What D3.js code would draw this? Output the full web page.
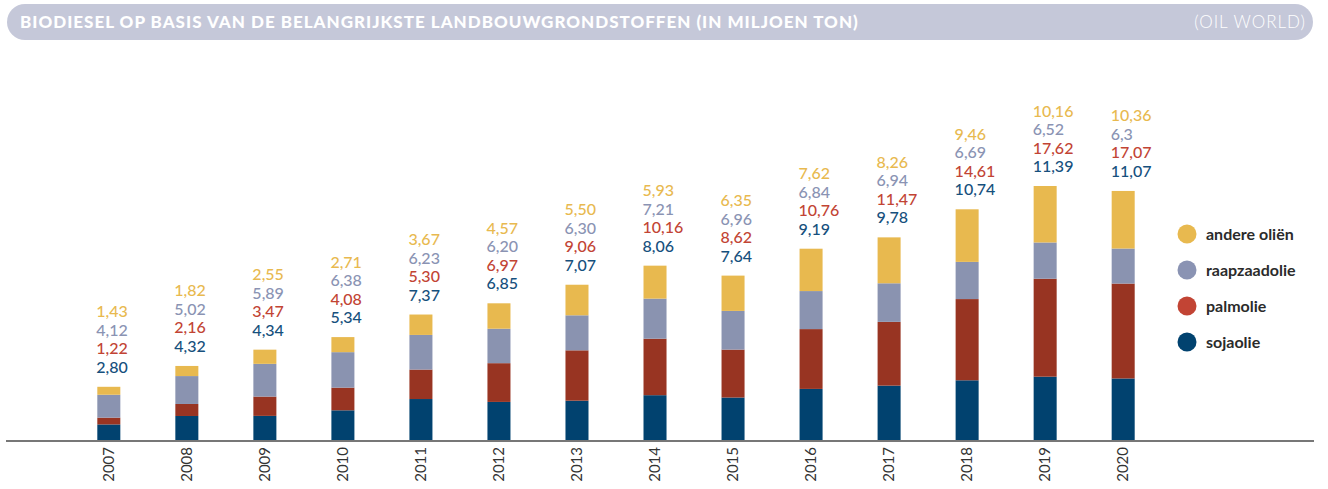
<!DOCTYPE html>
<html>
<head>
<meta charset="utf-8">
<script src="https://cdn.jsdelivr.net/npm/d3@7"></script>
<style>
  body { margin: 0; background: #fff; }
  svg { display: block; }
</style>
</head>
<body>
<script>
const years = ['2007', '2008', '2009', '2010', '2011', '2012', '2013', '2014', '2015', '2016', '2017', '2018', '2019', '2020']
const sojaolie = [2.80, 4.32, 4.34, 5.34, 7.37, 6.85, 7.07, 8.06, 7.64, 9.19, 9.78, 10.74, 11.39, 11.07]
const palmolie = [1.22, 2.16, 3.47, 4.08, 5.30, 6.97, 9.06, 10.16, 8.62, 10.76, 11.47, 14.61, 17.62, 17.07]
const raapzaadolie = [4.12, 5.02, 5.89, 6.38, 6.23, 6.20, 6.30, 7.21, 6.96, 6.84, 6.94, 6.69, 6.52, 6.3]
const andereOlien = [1.43, 1.82, 2.55, 2.71, 3.67, 4.57, 5.50, 5.93, 6.35, 7.62, 8.26, 9.46, 10.16, 10.36]
// labels as printed (2020 raapzaadolie shows "6,3")
const labelText = {
    raapzaadolie: ['4,12', '5,02', '5,89', '6,38', '6,23', '6,20', '6,30', '7,21', '6,96', '6,84', '6,94', '6,69', '6,52', '6,3']
}

const series = [
    { key: 'sojaolie', name: 'sojaolie', values: sojaolie, fill: '#01426f', text: '#16507d', dot: '#01426f' },
    { key: 'palmolie', name: 'palmolie', values: palmolie, fill: '#983422', text: '#c24434', dot: '#c24434' },
    { key: 'raapzaadolie', name: 'raapzaadolie', values: raapzaadolie, fill: '#8a93b0', text: '#8a93b3', dot: '#8a93b3' },
    { key: 'andere', name: 'andere oliën', values: andereOlien, fill: '#e8b94f', text: '#e8b94f', dot: '#e8b94f' }
]

const width = 1328
const height = 489
const baseY = 440

const svg = d3.select('body').append('svg')
    .attr('width', width)
    .attr('height', height)

// title bar
svg.append('rect')
    .attr('x', 7).attr('y', 4)
    .attr('width', 1306).attr('height', 36)
    .attr('rx', 18)
    .attr('fill', '#c5c8d9')
svg.append('text')
    .attr('x', 20).attr('y', 28)
    .attr('font-family', 'Lato')
    .attr('font-weight', 900)
    .attr('font-size', 17)
    .attr('letter-spacing', 1)
    .attr('fill', '#fff')
    .text('BIODIESEL OP BASIS VAN DE BELANGRIJKSTE LANDBOUWGRONDSTOFFEN (IN MILJOEN TON)')
svg.append('text')
    .attr('x', 1306).attr('y', 28)
    .attr('text-anchor', 'end')
    .attr('font-family', 'Lato')
    .attr('font-weight', 300)
    .attr('font-size', 17)
    .attr('letter-spacing', 1)
    .attr('fill', '#fff')
    .text('(OIL WORLD)')

let x = d3.scaleBand()
    .domain(years)
    .range([70, 1162])
    .paddingInner(0.705)
    .paddingOuter(0.35)

let totals = years.map((_, i) => d3.sum(series, s => s.values[i]))
let y = d3.scaleLinear()
    .domain([0, 45.69])
    .range([baseY, 186])

let stackData = years.map((yr, i) => {
    let row = { year: yr }
    series.forEach(s => { row[s.key] = s.values[i] })
    return row
})
let stacked = d3.stack().keys(series.map(s => s.key))(stackData)

svg.selectAll('.layer')
    .data(stacked)
    .join('g')
    .attr('class', 'layer')
    .attr('fill', (d, i) => series[i].fill)
    .selectAll('rect')
    .data(d => d)
    .join('rect')
    .attr('x', d => x(d.data.year))
    .attr('y', d => y(d[1]))
    .attr('width', x.bandwidth())
    .attr('height', d => y(d[0]) - y(d[1]))

// value labels above bars
years.forEach((yr, i) => {
    let top = y(totals[i])
    series.forEach((s, j) => {
        let txt = s.key === 'raapzaadolie' ? labelText.raapzaadolie[i] : d3.format('.2f')(s.values[i]).replace('.', ',')
        svg.append('text')
            .attr('x', x(yr) - 1)
            .attr('y', top - 14 - j * 18.5)
            .attr('font-family', 'Lato')
            .attr('font-weight', 500)
            .attr('font-size', 16)
            .attr('fill', s.text)
            .text(txt)
    })
})

// axis line
svg.append('line')
    .attr('x1', 6).attr('x2', 1314)
    .attr('y1', baseY + 1).attr('y2', baseY + 1)
    .attr('stroke', '#777')
    .attr('stroke-width', 2)

// year labels
svg.selectAll('.year')
    .data(years)
    .join('text')
    .attr('class', 'year')
    .attr('transform', d => `translate(${x(d) + x.bandwidth() / 2 + 5},${baseY + 7}) rotate(-90)`)
    .attr('text-anchor', 'end')
    .attr('font-family', 'Lato')
    .attr('font-size', 15)
    .attr('fill', '#333')
    .text(d => d)

// legend
let legendItems = series.slice().reverse()
let legend = svg.selectAll('.legend')
    .data(legendItems)
    .join('g')
    .attr('class', 'legend')
    .attr('transform', (d, i) => `translate(1187,${234 + i * 36})`)
legend.append('circle')
    .attr('r', 9.5)
    .attr('fill', d => d.dot)
legend.append('text')
    .attr('x', 19)
    .attr('y', 5.5)
    .attr('font-family', 'Lato')
    .attr('font-weight', 700)
    .attr('font-size', 16)
    .attr('fill', '#2b2b2b')
    .text(d => d.name)
</script>
</body>
</html>
